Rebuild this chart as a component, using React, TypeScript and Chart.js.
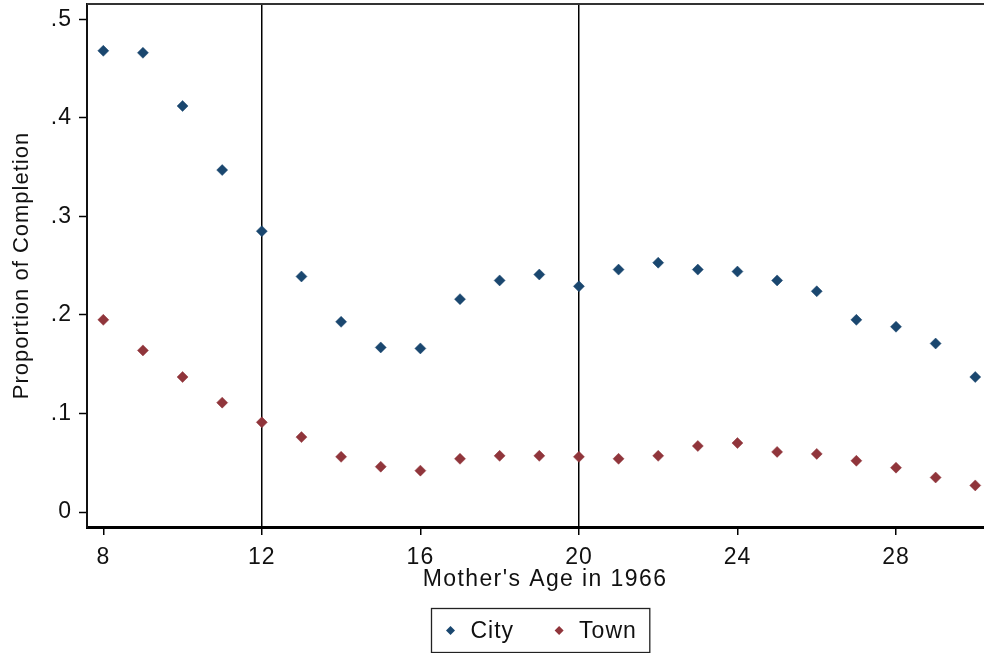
import React, { useEffect, useRef } from "react";
import { Chart, registerables } from "chart.js";

Chart.register(...registerables);

const ages = [8, 9, 10, 11, 12, 13, 14, 15, 16, 17, 18, 19, 20, 21, 22, 23, 24, 25, 26, 27, 28, 29, 30];
const cityValues = [0.468, 0.466, 0.412, 0.347, 0.285, 0.239, 0.193, 0.167, 0.166, 0.216, 0.235, 0.241, 0.229, 0.246, 0.253, 0.246, 0.244, 0.235, 0.224, 0.195, 0.188, 0.171, 0.137];
const townValues = [0.195, 0.164, 0.137, 0.111, 0.091, 0.076, 0.056, 0.046, 0.042, 0.054, 0.057, 0.057, 0.056, 0.054, 0.057, 0.067, 0.070, 0.061, 0.059, 0.052, 0.045, 0.035, 0.027];
const xTickValues = [8, 12, 16, 20, 24, 28];
const yTickValues = [0, 0.1, 0.2, 0.3, 0.4, 0.5];
const yTickLabels = ["0", ".1", ".2", ".3", ".4", ".5"];
const referenceLines = [12, 20];
const seriesNames = ["City", "Town"];
const seriesColors = ["#1a476f", "#90353b"];
const xTitle = "Mother's Age in 1966";
const yTitle = "Proportion of Completion";

const FONT_FAMILY = '"Liberation Sans", Arial, sans-serif';
const FONT_SIZE = 23;
const LETTER_SPACING = "1px";

const spacingPlugin = {
  id: "letterSpacing",
  beforeDraw(chart: any) {
    (chart.ctx as any).letterSpacing = LETTER_SPACING;
  },
};

const framePlugin = {
  id: "frameAndLegend",
  afterDraw(chart: any) {
    const { ctx, chartArea } = chart;
    ctx.save();
    // top frame line
    ctx.strokeStyle = "#333";
    ctx.lineWidth = 2;
    ctx.beginPath();
    ctx.moveTo(chartArea.left, chartArea.top);
    ctx.lineTo(chartArea.right, chartArea.top);
    ctx.stroke();

    // x axis title
    ctx.font = `${FONT_SIZE}px ${FONT_FAMILY}`;
    ctx.letterSpacing = "1.4px";
    ctx.fillStyle = "#111";
    ctx.textBaseline = "middle";
    ctx.textAlign = "center";
    ctx.fillText(xTitle, 545, 580);

    // legend
    ctx.letterSpacing = LETTER_SPACING;
    ctx.textAlign = "left";
    const items = chart.data.datasets.map((ds: any) => ({
      label: ds.label,
      color: ds.backgroundColor,
      w: ctx.measureText(ds.label).width,
    }));
    const padL = 13, markerToText = 20, itemGap = 45, padR = 13;
    let total = padL + padR;
    items.forEach((it: any, i: number) => {
      total += 6 + markerToText + it.w + (i < items.length - 1 ? itemGap - 6 : 0);
    });
    const cx = 540;
    const boxL = Math.round(cx - total / 2) + 0.5;
    const boxT = 608.5;
    const boxH = 44;
    ctx.strokeStyle = "#222";
    ctx.lineWidth = 1.3;
    ctx.strokeRect(boxL, boxT, total, boxH);
    let x = boxL + padL + 6;
    const cy = boxT + boxH / 2;
    items.forEach((it: any) => {
      ctx.fillStyle = it.color;
      const r = 4.5;
      ctx.beginPath();
      ctx.moveTo(x, cy - r);
      ctx.lineTo(x + r, cy);
      ctx.lineTo(x, cy + r);
      ctx.lineTo(x - r, cy);
      ctx.closePath();
      ctx.fill();
      ctx.fillStyle = "#111";
      ctx.fillText(it.label, x + markerToText, cy + 1);
      x += markerToText + it.w + itemGap;
    });
    ctx.restore();
  },
};

export default function App() {
  const canvasRef = useRef<HTMLCanvasElement | null>(null);

  useEffect(() => {
    const canvas = canvasRef.current;
    if (!canvas) return;
    const makeData = (vals: number[]) => ages.map((a, i) => ({ x: a, y: vals[i] }));
    const chart = new Chart(canvas, {
      type: "scatter",
      data: {
        datasets: [
          {
            label: seriesNames[0],
            data: makeData(cityValues),
            backgroundColor: seriesColors[0],
            borderColor: seriesColors[0],
            pointStyle: "rectRot",
            pointRadius: 5.5,
            borderWidth: 0.5,
          },
          {
            label: seriesNames[1],
            data: makeData(townValues),
            backgroundColor: seriesColors[1],
            borderColor: seriesColors[1],
            pointStyle: "rectRot",
            pointRadius: 5.5,
            borderWidth: 0.5,
          },
        ],
      },
      options: {
        animation: false,
        responsive: true,
        maintainAspectRatio: false,
        layout: { autoPadding: false, padding: { top: 4, left: 0, right: 0, bottom: 0 } },
        plugins: {
          legend: { display: false },
          tooltip: { enabled: false },
        },
        scales: {
          x: {
            type: "linear",
            position: "bottom",
            min: 7.589,
            max: 30.22,
            afterBuildTicks: (scale: any) => {
              scale.ticks = xTickValues.map((v) => ({ value: v }));
            },
            afterFit: (scale: any) => {
              scale.height = 126;
              scale.paddingLeft = 0;
              scale.paddingRight = 0;
              scale.paddingTop = 0;
              scale.paddingBottom = 0;
            },
            grid: {
              display: true,
              drawOnChartArea: true,
              drawTicks: true,
              tickLength: 8,
              tickColor: "#000",
              tickWidth: 1.5,
              lineWidth: 1.5,
              color: (c: any) =>
                c.tick && referenceLines.includes(c.tick.value) ? "#000" : "rgba(0,0,0,0)",
            },
            border: { display: true, color: "#000", width: 3 },
            ticks: {
              color: "#111",
              padding: 9,
              maxRotation: 0,
              font: { family: FONT_FAMILY, size: FONT_SIZE },
              callback: (v: any) => String(v),
            },
            title: { display: false, text: xTitle },
          },
          y: {
            type: "linear",
            min: -0.0152,
            max: 0.5155,
            afterBuildTicks: (scale: any) => {
              scale.ticks = yTickValues.map((v) => ({ value: v }));
            },
            afterFit: (scale: any) => {
              scale.width = 87;
              scale.paddingLeft = 0;
              scale.paddingRight = 0;
              scale.paddingTop = 0;
              scale.paddingBottom = 0;
            },
            grid: {
              display: true,
              drawOnChartArea: false,
              drawTicks: true,
              tickLength: 8,
              tickColor: "#000",
              tickWidth: 1.5,
            },
            border: { display: true, color: "#111", width: 2 },
            ticks: {
              color: "#111",
              padding: 7,
              font: { family: FONT_FAMILY, size: FONT_SIZE },
              callback: (v: any) => {
                const idx = yTickValues.findIndex((t) => Math.abs(t - v) < 1e-9);
                return idx >= 0 ? yTickLabels[idx] : "";
              },
            },
            title: {
              display: true,
              text: yTitle,
              color: "#111",
              font: { family: FONT_FAMILY, size: 22 },
              padding: { top: 9, bottom: 0 },
            },
          },
        },
      },
      plugins: [spacingPlugin, framePlugin],
    });
    return () => chart.destroy();
  }, []);

  return (
    <div style={{ position: "absolute", left: 0, top: 0, width: 984, height: 653, background: "#fff" }}>
      <canvas ref={canvasRef} />
    </div>
  );
}
